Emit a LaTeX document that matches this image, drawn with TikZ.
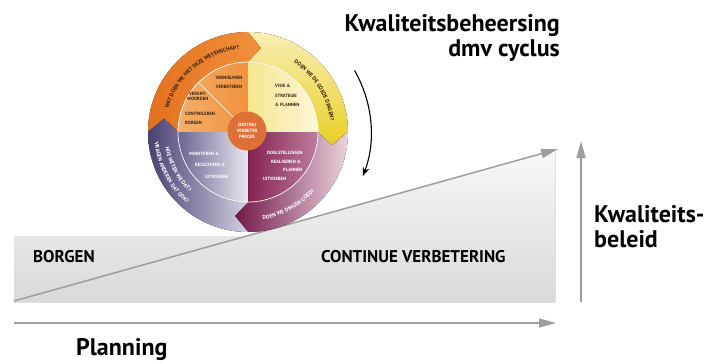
\documentclass[tikz,border=0pt]{standalone}
\usepackage{fontspec}
\setmainfont{PT Sans}
\usetikzlibrary{arrows.meta,decorations.text}

\definecolor{orangeband}{HTML}{E4701F}
\definecolor{orangelight}{HTML}{F0913B}
\definecolor{orangeinner}{HTML}{F0923E}
\definecolor{orangeinnerlight}{HTML}{F5AE6A}
\definecolor{yellowband}{HTML}{E8CF24}
\definecolor{yellowpale}{HTML}{F8EEB4}
\definecolor{yellowinner}{HTML}{F6E68E}
\definecolor{yellowinnerlight}{HTML}{FCF6DA}
\definecolor{maroondark}{HTML}{731748}
\definecolor{maroonpale}{HTML}{EBD3DE}
\definecolor{marooninner}{HTML}{842252}
\definecolor{marooninnerlight}{HTML}{BE7D9C}
\definecolor{slatedark}{HTML}{4A4072}
\definecolor{slatepale}{HTML}{D3D0E2}
\definecolor{slateinner}{HTML}{6C6591}
\definecolor{slateinnerlight}{HTML}{E8E6F0}
\definecolor{centreorange}{HTML}{DD7036}
\definecolor{inkbrown}{HTML}{3A2410}
\definecolor{axisgray}{HTML}{9E9E9E}

\newcommand{\ringfont}{\fontsize{5.5}{6}\selectfont\bfseries}

\begin{document}
\begin{tikzpicture}[x=1pt, y=-1pt,
    heading/.style={font=\fontsize{24}{25}\selectfont\bfseries, inner sep=0pt},
    bandlabel/.style={font=\fontsize{17}{20}\selectfont\bfseries, inner sep=0pt},
    axisline/.style={draw=axisgray, line width=1.5pt, -{Triangle[length=17pt, width=9pt]}},
    innerdark/.style={font=\fontsize{4.6}{9}\selectfont\bfseries, text=inkbrown, inner sep=0pt},
    innerlight/.style={innerdark, text=white},
    ringtext/.style={decorate, decoration={text along path, text align=center, text={|\ringfont|#1}}}]

    \fill [white] (0, 0) rectangle (710, 362);
    \useasboundingbox (0, 0) rectangle (710, 362);

    \fill [top color=gray!6, bottom color=gray!30] (14, 236) -- (248, 236) -- (555, 150) -- (555, 302) -- (14, 302) -- cycle;

    \coordinate (origin) at (14, 301);
    \coordinate (slopetip) at (558, 149);
    \coordinate (planstart) at (14, 323);
    \coordinate (plantip) at (556, 323);
    \coordinate (beleidfoot) at (581, 302);
    \coordinate (beleidtip) at (581, 141);
    \draw [axisline] (origin) -- (slopetip);
    \draw [axisline] (planstart) -- (plantip);
    \draw [axisline] (beleidfoot) -- (beleidtip);

    \node [bandlabel, anchor=base west] (borgen) at (33, 262) {BORGEN};
    \node [bandlabel, anchor=base west] (verbetering) at (321, 262) {CONTINUE VERBETERING};
    \node [heading, anchor=base west] (planning) at (76, 355) {Planning};
    \node [heading, align=left, anchor=north west] (beleid) at (594, 205) {Kwaliteits-\\beleid};
    \node [heading, align=right, anchor=north east] (title) at (560, 14) {Kwaliteitsbeheersing\\dmv cyclus};

    \coordinate (cen) at (248, 132);
    \begin{scope}[shift={(cen)}]
        \foreach \a/\ca/\cb/\sa in {180/orangeband/orangelight/90, 270/yellowpale/yellowband/0, 0/maroondark/maroonpale/90, 90/slatedark/slatepale/90}
            \fill [top color=\ca, bottom color=\cb, shading angle=\sa] (\a:100) arc [start angle=\a, delta angle=90, radius=100] -- ({\a+99}:85) -- ({\a+90}:70) arc [start angle={\a+90}, delta angle=-90, radius=70] -- ({\a+9}:85) -- cycle;
        \foreach \a/\ca/\cb in {180/orangeinnerlight/orangeinner, 270/yellowinner/yellowinnerlight, 0/marooninner/marooninnerlight, 90/slateinner/slateinnerlight}
            \fill [left color=\ca, right color=\cb] (0, 0) -- (\a:70) arc [start angle=\a, delta angle=90, radius=70] -- cycle;
        \draw [white, line width=0.7pt] (0, 0) circle [radius=70];
        \draw [white, line width=0.6pt] (225:18) -- (225:70);

        \path [ringtext={WAT DOEN WE MET DEZE WETENSCHAP?}, decoration={text color=inkbrown}] (190:83) arc [start angle=190, end angle=270, radius=83];
        \path [ringtext={DOEN WE DE GOEDE DINGEN?}, decoration={text color=inkbrown}] (294:83) arc [start angle=294, end angle=362, radius=83];
        \path [ringtext={DOEN WE DINGEN GOED?}, decoration={text color=white}] (94:89) arc [start angle=94, end angle=28, radius=89];
        \path [ringtext={HOE WETEN WE DAT?}, decoration={text color=white}] (180:84) arc [start angle=180, end angle=124, radius=84];
        \path [ringtext={VRAGEN ANDEREN DAT OOK?}, decoration={text color=white}] (184:94) arc [start angle=184, end angle=120, radius=94];

        \draw [-{Stealth[length=9pt, width=7pt]}, line width=1.1pt] (330:123) arc [start angle=330, end angle=381, radius=123];
    \end{scope}

    \node [innerdark, align=center] (vernieuwen) at (229, 82.5) {VERNIEUWEN\\VERBETEREN};
    \node [innerdark, align=left, anchor=west, font=\fontsize{4.6}{5.5}\selectfont\bfseries] (verantwoorden) at (185, 108.5) {\hspace*{4pt}VERANT-\\\hspace*{2pt}WOORDEN\\[9.5pt]CONTROLEREN\\[3.5pt]BORGEN};
    \node [innerdark, align=left, anchor=west, font=\fontsize{4.6}{9.5}\selectfont\bfseries] (visie) at (275, 95.5) {VISIE \&\\STRATEGIE\\\& PLANNEN};
    \node [innerlight, align=left, anchor=west, font=\fontsize{4.6}{8.7}\selectfont\bfseries] (doelstellingen) at (263, 166) {\hspace*{4pt}DOELSTELLINGEN\\\hspace*{8pt}REALISEREN \&\\\hspace*{20pt}PLANNEN\\UITVOEREN};
    \node [innerlight, align=left, anchor=west, font=\fontsize{4.6}{11.5}\selectfont\bfseries] (monitoren) at (189, 165) {MONITOREN \&\\\hspace*{6pt}RESULTATEN \&\\\hspace*{16pt}UITVOEREN};
    \node [innerlight, circle, fill=centreorange, minimum size=39pt, align=center, font=\fontsize{4.6}{5.8}\selectfont\bfseries] (proces) at (247, 131) {CONTINU\\VERBETER\\PROCES};

\end{tikzpicture}
\end{document}
